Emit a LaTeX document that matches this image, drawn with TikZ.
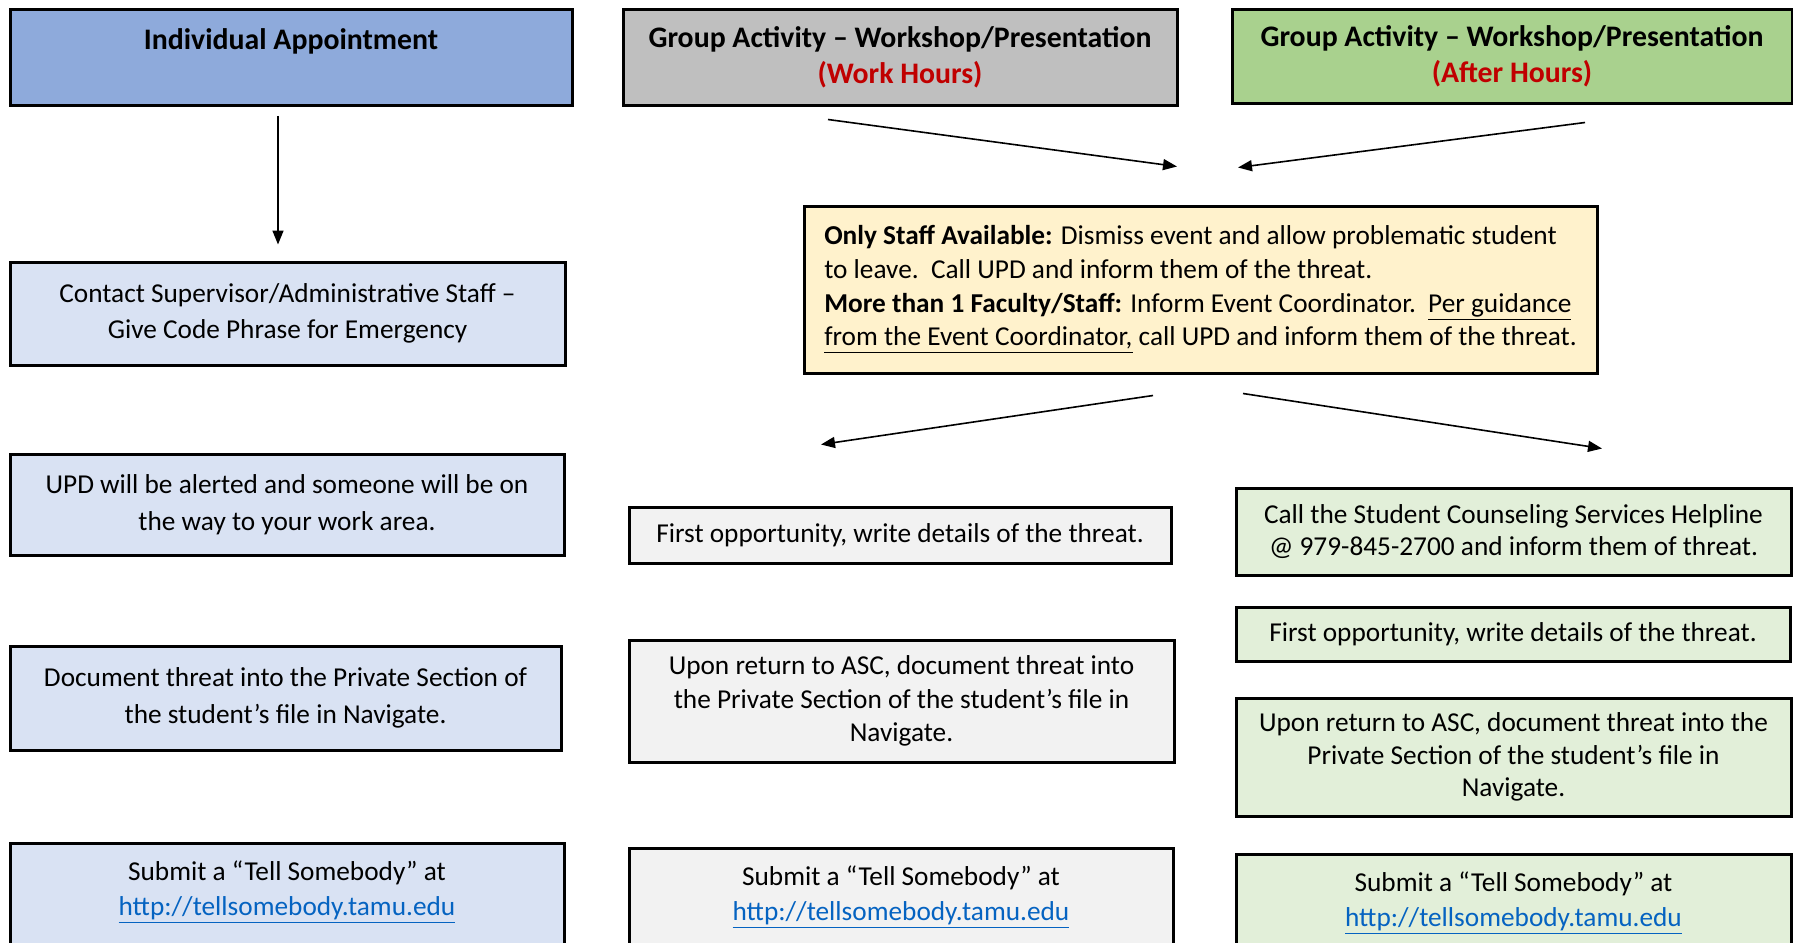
\documentclass[tikz,border=0pt]{standalone}
\usepackage{fontspec}
\setmainfont{Carlito}
\usepackage{xcolor}
\usetikzlibrary{positioning, arrows.meta, calc}
\definecolor{hdrblue}{HTML}{8EAADB}
\definecolor{paleblue}{HTML}{D9E2F3}
\definecolor{hdrgray}{HTML}{BFBFBF}
\definecolor{palegray}{HTML}{F2F2F2}
\definecolor{hdrgreen}{HTML}{A9D18E}
\definecolor{palegreen}{HTML}{E2EFD9}
\definecolor{noteyellow}{HTML}{FFF2CC}
\definecolor{hoursred}{HTML}{C00000}
\definecolor{linkblue}{HTML}{0563C1}
\newcommand{\weblink}[1]{\textcolor{linkblue}{\underline{#1}}}

\begin{document}
\begin{tikzpicture}[
  x=0.5pt, y=-0.5pt,
  box/.style={rectangle, draw, line width=1.5pt, align=center, inner sep=0pt, font=\fontsize{13.65}{16.75}\selectfont},
  hdr/.style={box, font=\fontsize{14.9}{18}\selectfont\bfseries},
  bluebox/.style={box, fill=paleblue, font=\fontsize{13.65}{18.25}\selectfont},
  graybox/.style={box, fill=palegray},
  greenbox/.style={box, fill=palegreen, font=\fontsize{13.65}{16.25}\selectfont},
  openbox/.style={anchor=north, inner ysep=8.8pt, text depth=70pt, font=\fontsize{13.65}{17.25}\selectfont},
  arr/.style={-{Triangle[length=7pt, width=5.5pt]}, line width=0.8pt}
]
\path[use as bounding box, fill=white] (0,0) rectangle (1793,942);

\node[hdr, fill=hdrblue, minimum width=281pt, minimum height=47.5pt, anchor=north, inner ysep=9.5pt, text depth=18.5pt] (indiv) at (291,8) {Individual Appointment};
\node[hdr, fill=hdrgray, minimum width=277pt, minimum height=48pt] (grpwork) at (900,57) {Group Activity – Workshop/Presentation\\\textcolor{hoursred}{(Work Hours)}};
\node[hdr, fill=hdrgreen, minimum width=280pt, minimum height=47pt] (grpafter) at (1512,56) {Group Activity – Workshop/Presentation\\\textcolor{hoursred}{(After Hours)}};

\node[bluebox, minimum width=277.5pt, minimum height=51.5pt] (contact) at (287.5,313.5) {Contact Supervisor/Administrative Staff –\\Give Code Phrase for Emergency};
\node[bluebox, minimum width=277pt, minimum height=50.5pt] (upd) at (287,504.5) {UPD will be alerted and someone will be on\\the way to your work area.};
\node[bluebox, minimum width=275.5pt, minimum height=52pt] (docindiv) at (285.5,698) {Document threat into the Private Section of\\the student’s file in Navigate.};
\node[bluebox, openbox, minimum width=277pt] (tellindiv) at (287,842) {Submit a “Tell Somebody” at\\\weblink{http://tellsomebody.tamu.edu}};

\node[box, fill=noteyellow, align=left, minimum width=396.5pt, minimum height=83.5pt, font=\fontsize{13.65}{16.8}\selectfont] (staff) at (1200.5,289.5) {\textbf{Only Staff Available:} Dismiss event and allow problematic student\\to leave.\ \ Call UPD and inform them of the threat.\\\textbf{More than 1 Faculty/Staff:} Inform Event Coordinator.\ \ \underline{Per guidance}\\\underline{from the Event Coordinator,} call UPD and inform them of the threat.};

\node[graybox, minimum width=271pt, minimum height=28pt] (firstwork) at (900,535) {First opportunity, write details of the threat.};
\node[graybox, minimum width=272.5pt, minimum height=61pt] (docwork) at (901.5,701) {Upon return to ASC, document threat into\\the Private Section of the student’s file in\\Navigate.};
\node[graybox, openbox, minimum width=272pt] (tellwork) at (901,847) {Submit a “Tell Somebody” at\\\weblink{http://tellsomebody.tamu.edu}};

\node[greenbox, minimum width=277.5pt, minimum height=43.5pt] (helpline) at (1513.5,531.5) {Call the Student Counseling Services Helpline\\@ 979-845-2700 and inform them of threat.};
\node[greenbox, minimum width=277pt, minimum height=27pt] (firstafter) at (1513,634) {First opportunity, write details of the threat.};
\node[greenbox, minimum width=277.5pt, minimum height=59pt] (docafter) at (1513.5,757) {Upon return to ASC, document threat into the\\Private Section of the student’s file in\\Navigate.};
\node[greenbox, openbox, minimum width=277.5pt] (tellafter) at (1513.5,853) {Submit a “Tell Somebody” at\\\weblink{http://tellsomebody.tamu.edu}};

\coordinate (s1) at ([xshift=-6.5pt, yshift=-4.5pt]indiv.south);
\coordinate (e1) at ([xshift=-4.75pt, yshift=8pt]contact.north);
\coordinate (s2) at ([xshift=-36pt, yshift=-6.5pt]grpwork.south);
\coordinate (e2) at ([xshift=-11.75pt, yshift=19pt]staff.north);
\coordinate (s3) at ([xshift=36.5pt, yshift=-9pt]grpafter.south);
\coordinate (e3) at ([xshift=18.75pt, yshift=18.5pt]staff.north);
\coordinate (s4) at ([xshift=-23.75pt, yshift=-10.5pt]staff.south);
\coordinate (e4) at ([xshift=-39.5pt, yshift=30.5pt]firstwork.north);
\coordinate (s5) at ([xshift=21.25pt, yshift=-9.5pt]staff.south);
\coordinate (e5) at ([xshift=44.25pt, yshift=19pt]helpline.north);

\draw[arr] (s1) -- (e1);
\draw[arr] (s2) -- (e2);
\draw[arr] (s3) -- (e3);
\draw[arr] (s4) -- (e4);
\draw[arr] (s5) -- (e5);
\end{tikzpicture}
\end{document}
